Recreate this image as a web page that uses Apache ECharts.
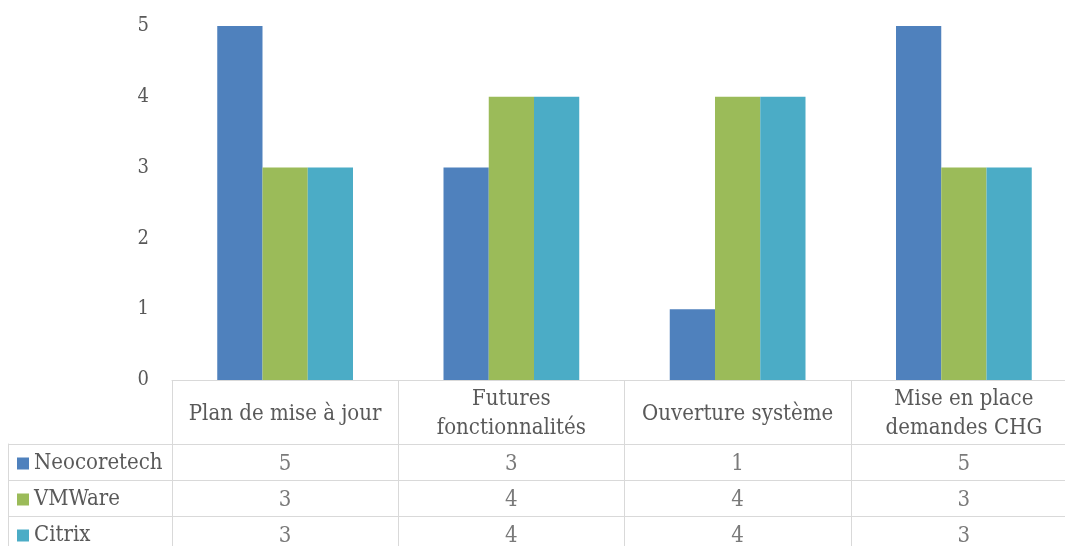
<!DOCTYPE html>
<html><head><meta charset="utf-8">
<script src="https://cdn.jsdelivr.net/npm/echarts@6/dist/echarts.min.js"></script>
<style>html,body{margin:0;padding:0;background:#fff}#c{width:1065px;height:546px}</style>
</head><body><div id="c"></div>
<script>
const categories = ['Plan de mise à jour', 'Futures\nfonctionnalités', 'Ouverture système', 'Mise en place\ndemandes CHG'];
const seriesNames = ['Neocoretech', 'VMWare', 'Citrix'];
const neocoretech = [5, 3, 1, 5];
const vmware = [3, 4, 4, 3];
const citrix = [3, 4, 4, 3];
const yTicks = [0, 1, 2, 3, 4, 5];
const colors = ['#4F81BD', '#9BBB59', '#4BACC6'];
const values = [neocoretech, vmware, citrix];

const FONT = "'DejaVu Serif Condensed', 'DejaVu Serif', serif";
const FS = 22;
const TXT = '#595959';
const LINE = '#d9d9d9';

const chart = echarts.init(document.getElementById('c'), null, {renderer: 'canvas'});

const barSeries = seriesNames.map((n, k) => ({
  name: n, type: 'bar', xAxisIndex: 0, yAxisIndex: 0,
  data: values[k], barGap: '0%', barCategoryGap: '40%',
  itemStyle: {color: colors[k]}, animation: false
}));

const tableSeries = seriesNames.map((n, k) => ({
  name: n + '_t', type: 'scatter', xAxisIndex: 1, yAxisIndex: 1,
  data: categories.map((c, i) => [i, k, values[k][i]]),
  symbolSize: 1, itemStyle: {color: 'rgba(0,0,0,0)'}, animation: false, silent: true,
  label: {show: true, position: 'inside', offset: [0, 2], formatter: p => String(p.value[2]),
    color: TXT, fontFamily: FONT, fontSize: FS}
}));

chart.setOption({
  animation: false,
  grid: [
    {left: 172, width: 905, top: 26, height: 354, outerBoundsMode: 'none', containLabel: false},
    {left: 172, width: 905, top: 444, height: 108, outerBoundsMode: 'none', containLabel: false}
  ],
  xAxis: [
    {type: 'category', gridIndex: 0, data: categories,
      axisLine: {show: true, lineStyle: {color: LINE, width: 1}},
      axisTick: {show: true, interval: 0, length: 64, alignWithLabel: false, lineStyle: {color: LINE}},
      axisLabel: {interval: 0, margin: 34, verticalAlign: 'middle', color: TXT, fontFamily: FONT, fontSize: FS, lineHeight: 29, hideOverlap: false},
      splitLine: {show: false}},
    {type: 'category', gridIndex: 1, data: categories.map((c, i) => i),
      axisLine: {show: false}, axisTick: {show: false}, axisLabel: {show: false},
      splitLine: {show: true, interval: 0, lineStyle: {color: LINE, width: 1}}}
  ],
  yAxis: [
    {type: 'value', gridIndex: 0, min: 0, max: 5, interval: 1,
      axisLine: {show: false}, axisTick: {show: false}, splitLine: {show: false},
      axisLabel: {margin: 23, color: TXT, fontFamily: FONT, fontSize: 20, padding: [4, 0, 0, 0],
        formatter: v => yTicks.includes(v) ? String(v) : ''}},
    {type: 'category', gridIndex: 1, data: seriesNames.map((n, k) => k), inverse: true,
      axisLine: {show: false},
      axisTick: {show: true, interval: 0, length: 164, alignWithLabel: false, lineStyle: {color: LINE}},
      splitLine: {show: true, interval: 0, lineStyle: {color: LINE, width: 1}},
      axisLabel: {interval: 0, align: 'left', margin: 155, color: TXT, fontFamily: FONT, fontSize: FS,
        padding: [3, 0, 0, 0],
        formatter: k => '{s' + k + '|}{t|' + seriesNames[k] + '}',
        rich: {
          s0: {backgroundColor: colors[0], width: 12, height: 12},
          s1: {backgroundColor: colors[1], width: 12, height: 12},
          s2: {backgroundColor: colors[2], width: 12, height: 12},
          t: {color: TXT, fontFamily: FONT, fontSize: FS, padding: [0, 0, 0, 5]}
        }}},
    {type: 'value', gridIndex: 1, position: 'left', offset: 164, min: 0, max: 1,
      axisLine: {show: true, lineStyle: {color: LINE, width: 1}},
      axisTick: {show: false}, axisLabel: {show: false}, splitLine: {show: false}}
  ],
  series: barSeries.concat(tableSeries)
});
</script>
</body></html>
